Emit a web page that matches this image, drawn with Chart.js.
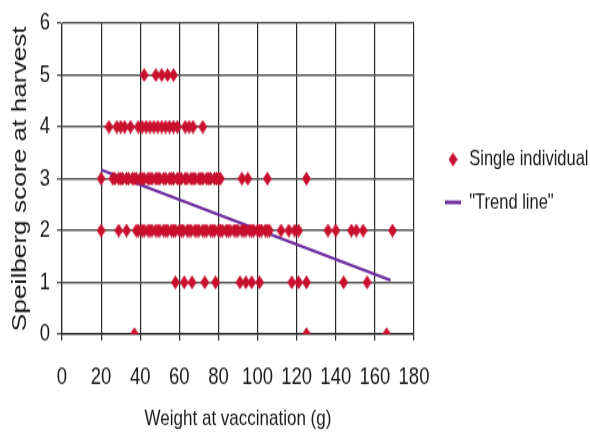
<!DOCTYPE html>
<html><head><meta charset="utf-8">
<script src="https://cdn.jsdelivr.net/npm/chart.js@4.4.1/dist/chart.umd.min.js"></script>
<style>
html,body{margin:0;padding:0;background:#fff;overflow:hidden;}
#wrap{position:absolute;left:0;top:0;width:590px;height:339px;transform:scaleY(1.2802);transform-origin:0 0;}
</style></head><body>
<div id="wrap"><canvas id="c"></canvas></div>
<script>
// ---- data (weight at vaccination in g, grouped by Speilberg score) ----
const weightsScore0 = [37, 125, 166];
const weightsScore1 = [58, 62.5, 66.5, 73, 78.5, 91, 94, 97, 101, 117.5, 121, 125, 144, 156];
const weightsScore2 = [20, 29, 33, 38, 39, 41, 42, 44, 45, 46, 48, 49, 50, 52, 53, 54, 56, 57, 58, 60, 61, 62, 64, 65, 66, 68, 69, 70, 72, 73, 74, 76, 77, 78, 80, 81, 82, 84, 85, 86, 88, 89, 90, 92, 93, 94, 96, 97, 98, 100, 101, 102, 104, 105, 106, 112, 116, 119, 121, 136, 140, 148, 150.5, 154, 169];
const weightsScore3 = [20, 26, 27, 29, 30, 31, 33, 34, 36, 37, 38, 40, 41, 42, 44, 45, 46, 48, 49, 50, 52, 53, 55, 56, 57, 59, 60, 61, 63, 64, 66, 67, 68, 70, 71, 72, 74, 75, 76, 78, 79, 80, 81, 92, 95, 105, 125];
const weightsScore4 = [24, 28, 30, 32, 35, 39, 41, 43, 45, 47, 49, 51, 53, 55, 57, 59, 63, 65, 67, 72];
const weightsScore5 = [42, 48, 51, 54, 57];
const trendWeights = [20, 168];
const trendScores = [3.17, 1.04];
const xTickValues = [0, 20, 40, 60, 80, 100, 120, 140, 160, 180];
const yTickValues = [0, 1, 2, 3, 4, 5, 6];
const seriesNames = ['Single individual', '"Trend line"'];
const axisTitles = ['Weight at vaccination (g)', 'Speilberg score at harvest'];

const groups = [[0, weightsScore0], [1, weightsScore1], [2, weightsScore2], [3, weightsScore3], [4, weightsScore4], [5, weightsScore5]];
const scatterPts = [];
groups.forEach(([score, ws]) => ws.forEach(w => scatterPts.push({x: w, y: score})));
const trendPts = trendWeights.map((w, i) => ({x: w, y: trendScores[i]}));

// tall narrow diamond marker
const RED = '#c8102e';
const PURPLE = '#7030a0';
const dia = document.createElement('canvas');
dia.width = 9; dia.height = 11;
(function(){ const g = dia.getContext('2d'); g.fillStyle = RED; g.beginPath();
  g.moveTo(4.5, 0); g.lineTo(9, 5.5); g.lineTo(4.5, 11); g.lineTo(0, 5.5); g.closePath(); g.fill(); })();

const FONT = '"Liberation Sans", Arial, Helvetica, sans-serif';
Chart.defaults.font.family = FONT;
Chart.defaults.color = '#1a1a1a';

const legendShift = {
  id: 'legendShift',
  afterLayout(chart) {
    const L = chart.legend; if (!L) return;
    L.left += 14; L.right = chart.width;
    L.top -= 36; L.bottom -= 36;
  }
};

new Chart(document.getElementById('c'), {
  type: 'scatter',
  data: {
    datasets: [
      { label: seriesNames[0], data: scatterPts, pointStyle: dia, pointRadius: 5, backgroundColor: RED, borderColor: RED, showLine: false },
      { label: seriesNames[1], data: trendPts, type: 'line', showLine: true, borderColor: PURPLE, borderWidth: 2.5,
        pointRadius: 0, pointStyle: 'line', pointBorderColor: PURPLE, pointBorderWidth: 3, backgroundColor: PURPLE, fill: false }
    ]
  },
  options: {
    responsive: true, maintainAspectRatio: false, animation: false,
    layout: { padding: { top: 15.6, right: 38, bottom: 0, left: 0 } },
    plugins: {
      tooltip: { enabled: false },
      legend: {
        position: 'right', align: 'center',
        labels: { usePointStyle: true, pointStyleWidth: 16, boxHeight: 16, padding: 17, color: '#1a1a1a', font: { size: 16.5, family: FONT } }
      }
    },
    scales: {
      x: {
        type: 'linear', min: 0, max: 180,
        afterBuildTicks: s => { s.ticks = xTickValues.map(v => ({value: v})); },
        afterFit: s => { s.height = 339 - 261; },
        ticks: { font: { size: 18.5 }, padding: 18, maxRotation: 0, autoSkip: false, color: '#1a1a1a' },
        grid: { color: '#2a2a2a', lineWidth: 1.2, tickLength: 5, drawTicks: true },
        border: { color: '#2a2a2a', width: 1.2 },
        title: { display: true, text: axisTitles[0], font: { size: 17 }, padding: { top: 0, bottom: 1 }, color: '#1a1a1a' }
      },
      y: {
        type: 'linear', min: 0, max: 6,
        afterBuildTicks: s => { s.ticks = yTickValues.map(v => ({value: v})); },
        afterFit: s => { s.width = 62; },
        ticks: { font: { size: 18.5 }, padding: 7, color: '#1a1a1a' },
        grid: { color: '#555', lineWidth: 1.4, tickLength: 5 },
        border: { color: '#2a2a2a', width: 1.2 },
        title: { display: true, text: axisTitles[1], font: { size: 20.5 }, padding: { top: 8, bottom: 0 }, color: '#1a1a1a' }
      }
    }
  },
  plugins: [legendShift]
});
</script>
</body></html>
